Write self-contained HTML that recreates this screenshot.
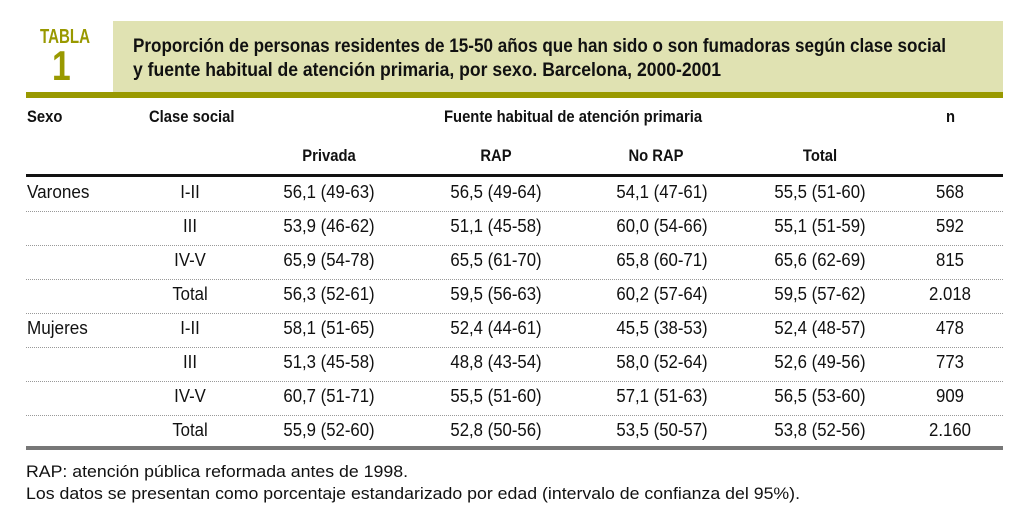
<!DOCTYPE html>
<html><head><meta charset="utf-8">
<style>
body{margin:0;width:1024px;height:514px;background:#fff;position:relative;overflow:hidden;font-family:"Liberation Sans",sans-serif;color:#111}
.a{position:absolute;white-space:nowrap}
.fit{transform-origin:0 0;display:inline-block}
.h{font-weight:bold;font-size:17px;transform:scaleX(.87);transform-origin:0 0}
.c{font-size:18px;transform:translateX(-50%) scaleX(.93);transform-origin:50% 0}
.hc{font-weight:bold;font-size:17px;transform:translateX(-50%) scaleX(.87);transform-origin:50% 0}
.dot{position:absolute;left:26px;width:977px;height:0;border-top:1px dotted #999}
</style></head><body>
<div class="a" style="left:113px;top:21px;width:890px;height:71px;background:#e0e2b2"></div>
<div class="a" style="left:26px;top:92px;width:977px;height:6px;background:#999900"></div>
<div class="a fit" data-w="50" style="left:40px;top:26px;font-weight:bold;font-size:20px;color:#999900">TABLA</div>
<div class="a" style="left:52px;top:42px;font-weight:bold;font-size:42px;color:#999900;transform:scaleX(.8);transform-origin:0 0">1</div>
<div class="a fit" data-w="813" style="left:133px;top:36px;font-weight:bold;font-size:19px">Proporción de personas residentes de 15-50 años que han sido o son fumadoras según clase social</div>
<div class="a fit" data-w="588" style="left:133px;top:60px;font-weight:bold;font-size:19px">y fuente habitual de atención primaria, por sexo. Barcelona, 2000-2001</div>

<div class="a h" style="left:27px;top:107px">Sexo</div>
<div class="a h" style="left:149px;top:107px">Clase social</div>
<div class="a h" style="left:444px;top:107px">Fuente habitual de atención primaria</div>
<div class="a h" style="left:946px;top:107px">n</div>
<div class="a hc" style="left:329px;top:146px">Privada</div>
<div class="a hc" style="left:496px;top:146px">RAP</div>
<div class="a hc" style="left:656px;top:146px">No RAP</div>
<div class="a hc" style="left:820px;top:146px">Total</div>
<div class="a" style="left:26px;top:174px;width:977px;height:3px;background:#111"></div>
<div id="rows"></div>
<div class="a" style="left:26px;top:446px;width:977px;height:4px;background:#777"></div>
<div class="a fit" data-w="382" style="left:26px;top:462px;font-size:17px">RAP: atención pública reformada antes de 1998.</div>
<div class="a fit" data-w="774" style="left:26px;top:484px;font-size:17px">Los datos se presentan como porcentaje estandarizado por edad (intervalo de confianza del 95%).</div>
<script>
var sexes=["Varones","","","","Mujeres","","",""];
var clases=["I-II","III","IV-V","Total","I-II","III","IV-V","Total"];
var privada=["56,1 (49-63)","53,9 (46-62)","65,9 (54-78)","56,3 (52-61)","58,1 (51-65)","51,3 (45-58)","60,7 (51-71)","55,9 (52-60)"];
var rap=["56,5 (49-64)","51,1 (45-58)","65,5 (61-70)","59,5 (56-63)","52,4 (44-61)","48,8 (43-54)","55,5 (51-60)","52,8 (50-56)"];
var norap=["54,1 (47-61)","60,0 (54-66)","65,8 (60-71)","60,2 (57-64)","45,5 (38-53)","58,0 (52-64)","57,1 (51-63)","53,5 (50-57)"];
var total=["55,5 (51-60)","55,1 (51-59)","65,6 (62-69)","59,5 (57-62)","52,4 (48-57)","52,6 (49-56)","56,5 (53-60)","53,8 (52-56)"];
var ns=["568","592","815","2.018","478","773","909","2.160"];
var rowsEl=document.getElementById('rows');
var cols=[[clases,190],[privada,329],[rap,496],[norap,662],[total,820],[ns,950]];
for(var i=0;i<clases.length;i++){
  var rowTop=182+i*34;
  if(sexes[i]){
    var s=document.createElement('div');s.className='a';s.style.left='27px';s.style.top=rowTop+'px';s.style.fontSize='18px';s.style.transform='scaleX(.95)';s.style.transformOrigin='0 0';s.textContent=sexes[i];
    
    
    rowsEl.appendChild(s);
  }
  for(var j=0;j<cols.length;j++){
    var d=document.createElement('div');d.className='a c';d.style.left=cols[j][1]+'px';d.style.top=rowTop+'px';d.textContent=cols[j][0][i];
    
    
    rowsEl.appendChild(d);
  }
  if(i<clases.length-1){
    var l=document.createElement('div');l.className='dot';l.style.top=(rowTop+29)+'px';
    
    
    rowsEl.appendChild(l);
  }
}
document.querySelectorAll('.fit').forEach(function(e){
  var w=e.getBoundingClientRect().width,t=+e.getAttribute('data-w');
  if(w>0)e.style.transform='scaleX('+(t/w)+')';
});
</script>
</body></html>
